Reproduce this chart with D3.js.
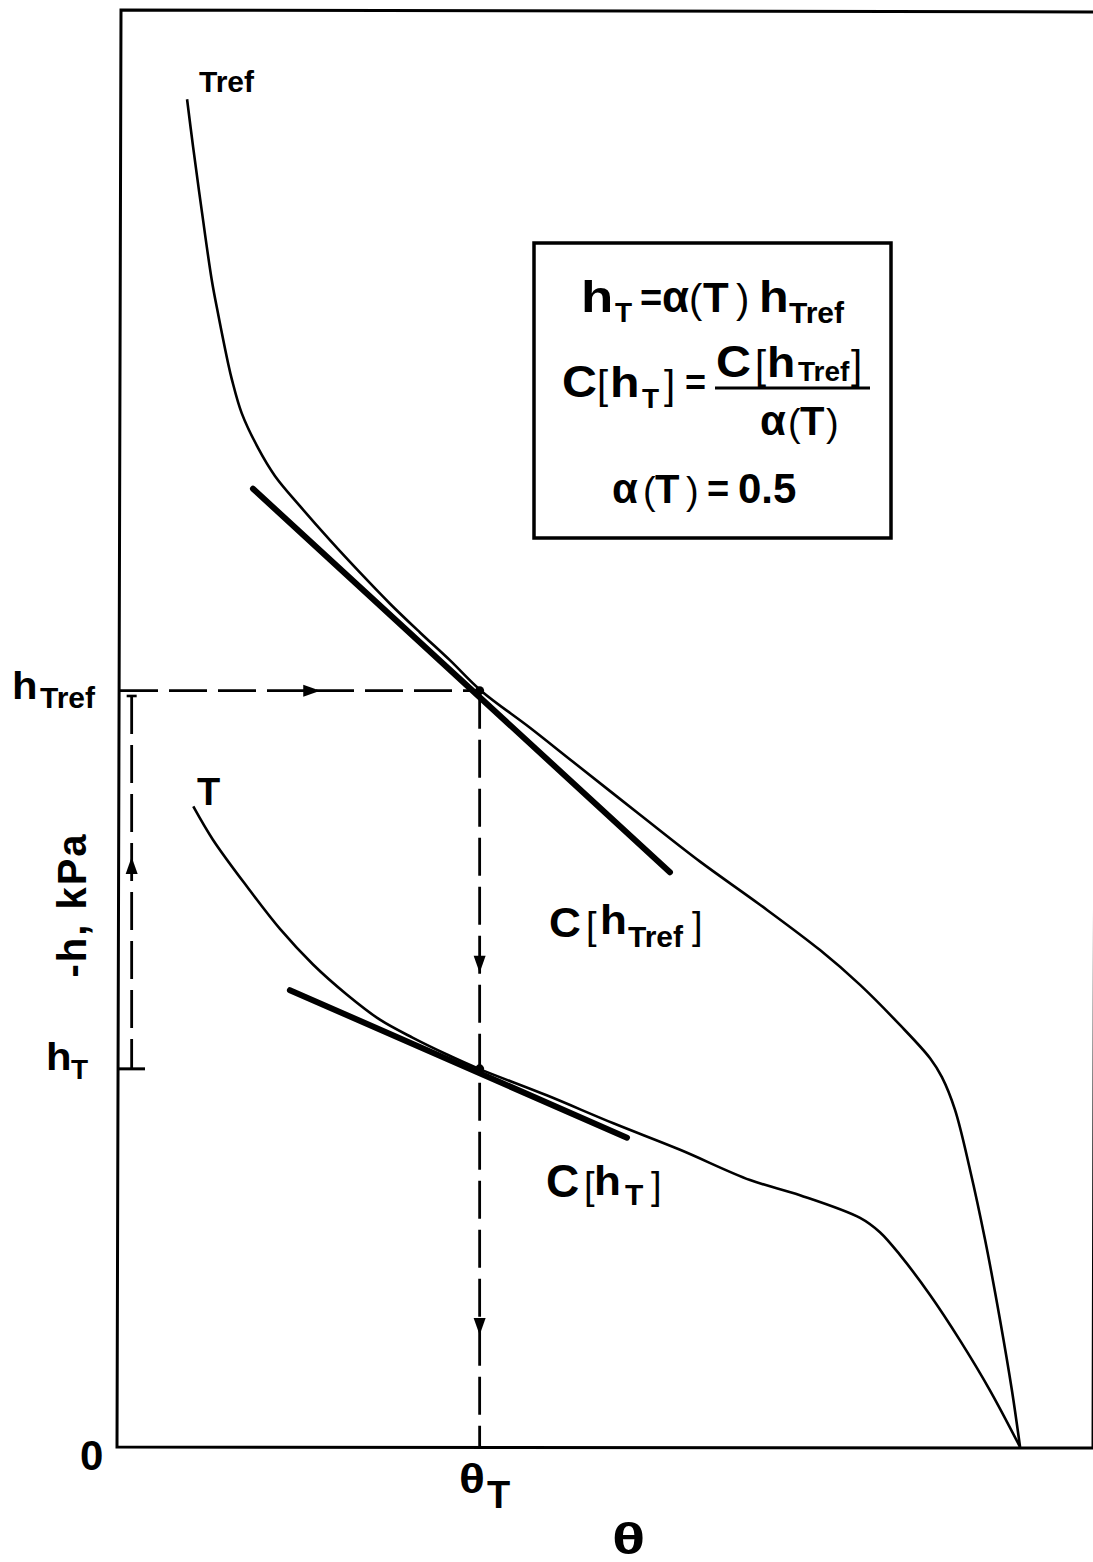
<!DOCTYPE html>
<html>
<head>
<meta charset="utf-8">
<script src="https://cdn.jsdelivr.net/npm/d3@7"></script>
<style>
  body { margin: 0; background: #fff; }
  svg { display: block; font-family: "Liberation Sans", Arial, sans-serif; }
</style>
</head>
<body>
<svg id="chart" width="1093" height="1562"></svg>
<script>
// water content theta and suction -h (kPa)
const trefTheta = [0.0345, 0.0376, 0.0422, 0.0472, 0.0504, 0.0556, 0.0576, 0.0626, 0.0710, 0.0797,
    0.0926, 0.1080, 0.1235, 0.1389, 0.1543, 0.1698, 0.1857, 0.2109, 0.2330, 0.2675, 0.2984,
    0.3292, 0.3601, 0.3807, 0.4012, 0.4167, 0.4228, 0.4295, 0.4373, 0.4450, 0.4527, 0.4588, 0.4630];
const trefH = [17.82, 17.19, 16.32, 15.43, 14.99, 14.33, 14.11, 13.67, 13.21, 12.84,
    12.44, 11.99, 11.56, 11.15, 10.77, 10.40, 10.00, 9.51, 9.06, 8.36, 7.74,
    7.17, 6.57, 6.11, 5.58, 5.14, 4.89, 4.46, 3.66, 2.74, 1.68, 0.75, 0];

const tTheta = [0.0377, 0.0478, 0.0653, 0.0823, 0.0993, 0.1168, 0.1337, 0.1507, 0.1682, 0.1847,
    0.2195, 0.2538, 0.2881, 0.3241, 0.3498, 0.3807, 0.3909, 0.4012, 0.4167, 0.4321, 0.4475, 0.4630];
const tH = [8.47, 8.03, 7.41, 6.85, 6.38, 5.98, 5.65, 5.41, 5.19, 5.00,
    4.65, 4.28, 3.93, 3.53, 3.33, 3.03, 2.84, 2.54, 2.01, 1.41, 0.75, 0];

// tangent segments (slopes C[h])
const trefTangentTheta = [0.0684, 0.2829];
const trefTangentH = [12.67, 7.60];
const tTangentTheta = [0.0874, 0.2608];
const tTangentH = [6.04, 4.09];

const alphaT = 0.5;
const hTref = 10;
const hT = alphaT * hTref;
const thetaT = 0.185;

const svg = d3.select('#chart');

const x = d3.scaleLinear().domain([0, 0.5]).range([120, 1092]);
const y = d3.scaleLinear().domain([0, 19]).range([1447, 10]);

// frame (scan is slightly skewed)
svg.append('path')
    .attr('d', 'M1097,12 L121,10 L117,1447 L1093,1448 L1097,10')
    .attr('fill', 'none')
    .attr('stroke', '#000')
    .attr('stroke-width', 3);

const line = d3.line()
    .x(d => x(d[0]))
    .y(d => y(d[1]))
    .curve(d3.curveCatmullRom.alpha(0.5));

const tref = trefTheta.map((t, i) => [t, trefH[i]]);
const tcur = tTheta.map((t, i) => [t, tH[i]]);

svg.append('path').attr('d', line(tref))
    .attr('fill', 'none').attr('stroke', '#000').attr('stroke-width', 2.6);
svg.append('path').attr('d', line(tcur))
    .attr('fill', 'none').attr('stroke', '#000').attr('stroke-width', 2.6);

// thick tangent lines
[[trefTangentTheta, trefTangentH], [tTangentTheta, tTangentH]].forEach(s => {
    svg.append('line')
        .attr('x1', x(s[0][0])).attr('y1', y(s[1][0]))
        .attr('x2', x(s[0][1])).attr('y2', y(s[1][1]))
        .attr('stroke', '#000')
        .attr('stroke-width', 6)
        .attr('stroke-linecap', 'round');
});

// dashed construction lines
function dashed(x1, y1, x2, y2) {
    svg.append('line')
        .attr('x1', x1).attr('y1', y1).attr('x2', x2).attr('y2', y2)
        .attr('stroke', '#000')
        .attr('stroke-width', 2.8)
        .attr('stroke-dasharray', '38,11');
}
dashed(x(0), y(hTref), x(thetaT), y(hTref));
dashed(x(thetaT), y(hTref), x(thetaT), y(0));
dashed(x(0.006), y(9.93), x(0.006), y(hT));

svg.append('line')
    .attr('x1', x(0.006) - 5).attr('x2', x(0.006) + 5)
    .attr('y1', y(9.93)).attr('y2', y(9.93))
    .attr('stroke', '#000').attr('stroke-width', 2.6);
svg.append('line')
    .attr('x1', 118).attr('x2', 145)
    .attr('y1', y(hT)).attr('y2', y(hT))
    .attr('stroke', '#000').attr('stroke-width', 3);

function arrow(px, py, dir) {
    let p;
    if (dir === 'right') p = [[px, py], [px - 17, py - 6], [px - 17, py + 6]];
    else if (dir === 'down') p = [[px, py], [px - 6, py - 17], [px + 6, py - 17]];
    else p = [[px, py], [px - 6, py + 17], [px + 6, py + 17]];
    svg.append('path')
        .attr('d', 'M' + p.map(q => q.join(',')).join('L') + 'Z')
        .attr('fill', '#000');
}
arrow(x(0.103), y(hTref), 'right');
arrow(x(thetaT), y(6.27), 'down');
arrow(x(thetaT), y(1.48), 'down');
arrow(x(0.006), y(7.8), 'up');

svg.selectAll('circle.tp')
    .data([hTref, hT])
    .enter()
    .append('circle')
    .attr('class', 'tp')
    .attr('cx', x(thetaT))
    .attr('cy', d => y(d))
    .attr('r', 4.5)
    .attr('fill', '#000');

// text: sx widens the glyph a little, the original type is an extended face
function put(px, py, txt, size, weight, sx) {
    return svg.append('text')
        .attr('transform', 'translate(' + px + ',' + py + ') scale(' + (sx || 1) + ',1)')
        .attr('font-size', size)
        .attr('font-weight', weight || 'bold')
        .text(txt);
}

put(199, 92, 'Tref', 30);
put(197, 805, 'T', 38);

// axis labels
put(12, 699, 'h', 38, 'bold', 1.1);
put(40, 708, 'Tref', 30);
put(46, 1070, 'h', 38, 'bold', 1.1);
put(71, 1079, 'T', 28);
put(80, 1470, '0', 42);
svg.append('text')
    .attr('transform', 'translate(86,905) rotate(-90)')
    .attr('text-anchor', 'middle')
    .attr('font-size', 40)
    .attr('font-weight', 'bold')
    .attr('letter-spacing', 2)
    .text('-h, kPa');
put(459, 1493, 'θ', 40, 'bold', 1.2);
put(487, 1508, 'T', 38);
put(612, 1554, 'θ', 44, 'bold', 1.4);

// curve slope labels
put(549, 937, 'C', 42, 'bold', 1.05);
put(586, 939, '[', 38, 'normal');
put(600, 934, 'h', 40, 'bold', 1.1);
put(628, 947, 'Tref', 30);
put(692, 939, ']', 38, 'normal');

put(546, 1197, 'C', 46);
put(584, 1199, '[', 38, 'normal');
put(594, 1195, 'h', 40, 'bold', 1.1);
put(625, 1205, 'T', 30);
put(651, 1199, ']', 38, 'normal');

// formula box
svg.append('rect')
    .attr('x', 534).attr('y', 243)
    .attr('width', 357).attr('height', 295)
    .attr('fill', 'none')
    .attr('stroke', '#000')
    .attr('stroke-width', 3.5);

put(581, 312, 'h', 44, 'bold', 1.2);
put(615, 322, 'T', 28);
put(640, 311, '=', 38);
put(662, 312, 'α', 44);
put(689, 313, '(', 40, 'normal');
put(703, 312, 'T', 42);
put(736, 313, ')', 40, 'normal');
put(759, 312, 'h', 44, 'bold', 1.1);
put(789, 323, 'Tref', 30);

put(562, 397, 'C', 44, 'bold', 1.1);
put(597, 399, '[', 40, 'normal');
put(610, 397, 'h', 42, 'bold', 1.15);
put(642, 408, 'T', 28);
put(664, 399, ']', 40, 'normal');
put(685, 395, '=', 36);

put(716, 377, 'C', 44, 'bold', 1.1);
put(755, 379, '[', 40, 'normal');
put(767, 377, 'h', 42, 'bold', 1.1);
put(798, 381, 'Tref', 28);
put(851, 379, ']', 40, 'normal');
svg.append('line')
    .attr('x1', 715).attr('x2', 870)
    .attr('y1', 388).attr('y2', 388)
    .attr('stroke', '#000').attr('stroke-width', 3);
put(760, 435, 'α', 42);
put(788, 436, '(', 38, 'normal');
put(800, 435, 'T', 40);
put(826, 436, ')', 38, 'normal');

put(612, 503, 'α', 42);
put(643, 504, '(', 38, 'normal');
put(655, 503, 'T', 40);
put(686, 504, ')', 38, 'normal');
put(707, 502, '=', 38);
put(738, 503, '0.5', 42);
</script>
</body>
</html>
